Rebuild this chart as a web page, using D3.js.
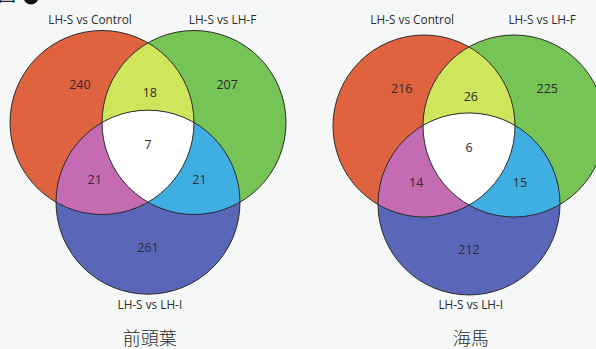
<!DOCTYPE html>
<html>
<head>
<meta charset="utf-8">
<script src="https://cdn.jsdelivr.net/npm/d3@7"></script>
<style>
  html, body { margin: 0; padding: 0; background: #f5f8f7; }
  svg { display: block; }
</style>
</head>
<body>
<svg id="chart" width="596" height="349"></svg>
<script>
// Comparison sets shared by both diagrams
const setNames = ["LH-S vs Control", "LH-S vs LH-F", "LH-S vs LH-I"];

// Region keys: A = Control, B = LH-F, C = LH-I
const regionKeys = ["A", "B", "AB", "ABC", "AC", "BC", "C"];

// Gene counts per region, one list per brain area
const panelTitles = ["前頭葉", "海馬"];
const countsFrontal = [240, 207, 18, 7, 21, 21, 261];
const countsHippocampus = [216, 225, 26, 6, 14, 15, 212];

const regionColors = {
  A: "#e0633f", B: "#76c455", C: "#5a66b8",
  AB: "#cfe65c", AC: "#c46bb4", BC: "#3eafe0", ABC: "#ffffff"
};

const svg = d3.select("#chart");
const W = 596, H = 349;

svg.append("rect").attr("width", W).attr("height", H).attr("fill", "#f5f8f7");

// Figure mark in the top-left corner, running off the top edge
svg.append("text").attr("x", -2).attr("y", 1)
  .attr("font-family", "Noto Sans CJK JP").attr("font-size", 18)
  .attr("fill", "#222").text("図");
svg.append("circle").attr("cx", 31).attr("cy", -3).attr("r", 7.5).attr("fill", "#111");

const panels = [
  { title: panelTitles[0], counts: countsFrontal, cxA: 102, cxB: 194, cy: 122.5, r: 92 },
  { title: panelTitles[1], counts: countsHippocampus, cxA: 424, cxB: 514, cy: 126, r: 91 }
];

// Count label offsets from the centroid of the three centres, in units of r
const labelOffset = {
  A: [-0.74, -0.70], B: [0.86, -0.70], AB: [0.02, -0.61], ABC: [0.0, -0.05],
  AC: [-0.58, 0.33], BC: [0.56, 0.33], C: [0.0, 1.07]
};

const fontLatin = "'Open Sans', 'Noto Sans', sans-serif";

panels.forEach((p, i) => {
  const d = p.cxB - p.cxA;
  const centres = {
    A: [p.cxA, p.cy],
    B: [p.cxB, p.cy],
    C: [(p.cxA + p.cxB) / 2, p.cy + d * Math.sqrt(3) / 2]
  };
  const g = svg.append("g");
  const defs = g.append("defs");
  ["A", "B", "C"].forEach(k => {
    defs.append("clipPath").attr("id", `clip${k}${i}`)
      .append("circle").attr("cx", centres[k][0]).attr("cy", centres[k][1]).attr("r", p.r);
  });

  const circ = (sel, k, fill) => sel.append("circle")
    .attr("cx", centres[k][0]).attr("cy", centres[k][1]).attr("r", p.r).attr("fill", fill);

  // single sets
  ["A", "B", "C"].forEach(k => circ(g, k, regionColors[k]));
  // pairwise overlaps
  circ(g.append("g").attr("clip-path", `url(#clipA${i})`), "B", regionColors.AB);
  circ(g.append("g").attr("clip-path", `url(#clipA${i})`), "C", regionColors.AC);
  circ(g.append("g").attr("clip-path", `url(#clipB${i})`), "C", regionColors.BC);
  // triple overlap
  circ(g.append("g").attr("clip-path", `url(#clipA${i})`)
        .append("g").attr("clip-path", `url(#clipB${i})`), "C", regionColors.ABC);

  // outlines
  ["A", "B", "C"].forEach(k => g.append("circle")
    .attr("cx", centres[k][0]).attr("cy", centres[k][1]).attr("r", p.r)
    .attr("fill", "none").attr("stroke", "#2b2b2b").attr("stroke-width", 1));

  // counts
  const gx = (centres.A[0] + centres.B[0] + centres.C[0]) / 3;
  const gy = (centres.A[1] + centres.B[1] + centres.C[1]) / 3;
  g.selectAll("text.count").data(regionKeys).join("text")
    .attr("class", "count")
    .attr("x", k => gx + labelOffset[k][0] * p.r)
    .attr("y", k => gy + labelOffset[k][1] * p.r)
    .attr("dy", "0.36em")
    .attr("text-anchor", "middle")
    .attr("font-family", fontLatin).attr("font-size", 12.5)
    .attr("fill", "#2e2a33")
    .text((k, j) => p.counts[j]);

  // set names
  const setPos = [
    [centres.A[0] - 0.13 * p.r, 20],
    [centres.B[0] + 0.31 * p.r, 20],
    [centres.C[0] + 0.02 * p.r, 305]
  ];
  g.selectAll("text.set").data(setNames).join("text")
    .attr("class", "set")
    .attr("x", (s, j) => setPos[j][0])
    .attr("y", (s, j) => setPos[j][1])
    .attr("dy", "0.36em")
    .attr("text-anchor", "middle")
    .attr("font-family", fontLatin).attr("font-size", 11.8)
    .attr("fill", "#2b2b2b")
    .text(s => s);

  // panel title
  g.append("text")
    .attr("x", centres.C[0] + 0.02 * p.r).attr("y", 345)
    .attr("text-anchor", "middle")
    .attr("font-family", "'Noto Sans CJK JP', sans-serif")
    .attr("font-weight", 300)
    .attr("font-size", 18)
    .attr("fill", "#2b2b2b")
    .text(p.title);
});
</script>
</body>
</html>
